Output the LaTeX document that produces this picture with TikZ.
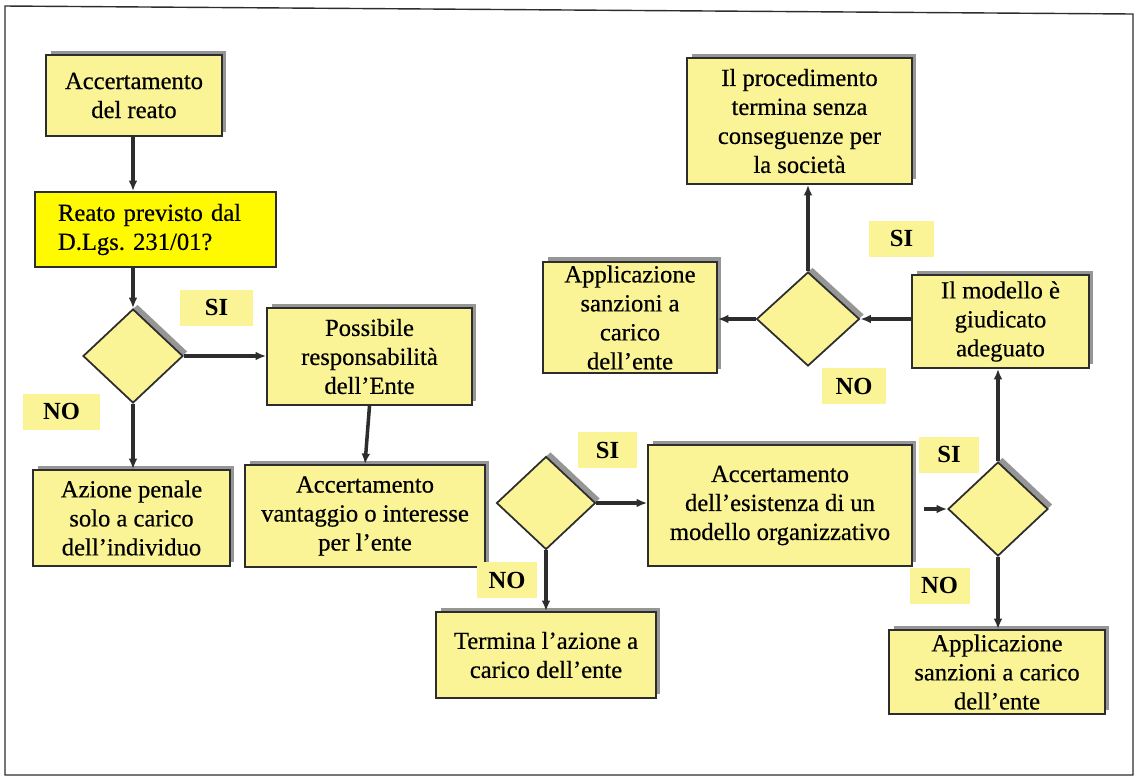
\documentclass[tikz,border=0pt]{standalone}
\usepackage{fontspec}
\setmainfont{Liberation Serif}
\newfontfamily\boxfont{Liberation Serif}[FakeBold=0.5]
\usepackage{tikz}
\usetikzlibrary{shapes, arrows.meta, positioning, shadows}

\definecolor{paleyel}{RGB}{250,244,150}
\definecolor{fullyel}{RGB}{255,250,0}
\definecolor{shadowgray}{RGB}{150,150,150}
\definecolor{linegray}{RGB}{45,45,45}

\tikzset{
  box/.style={draw=linegray, line width=1pt, fill=paleyel, align=center, inner sep=2pt,
    font=\boxfont\fontsize{14}{16.5}\selectfont,
    drop shadow={shadow xshift=0.09cm, shadow yshift=0.09cm, fill=shadowgray, opacity=1}},
  quest/.style={draw=linegray, line width=1pt, fill=fullyel, align=left,
    font=\boxfont\fontsize{14}{16.5}\selectfont},
  choice/.style={diamond, draw=linegray, line width=1pt, fill=paleyel, inner sep=0pt,
    drop shadow={shadow xshift=0.09cm, shadow yshift=0.09cm, fill=shadowgray, opacity=1}},
  answer/.style={fill=paleyel, font=\fontsize{14}{16}\selectfont\bfseries,
    minimum width=1.2cm, minimum height=0.72cm},
  arr/.style={-{Latex[length=6pt,width=5pt]}, draw=linegray, line width=2pt}
}

\begin{document}
\frenchspacing
\begin{tikzpicture}[x=0.02cm, y=-0.02cm]
\useasboundingbox (0,0) rectangle (1137,779);
\draw [linegray, line width=0.8pt] (5,775) -- (5,6) -- (1133,14) -- (1133,775) -- cycle;

% left column
\node[box, minimum width=3.52cm, minimum height=1.62cm] (reato) at (134,95.5) {Accertamento\\del reato};
\node[quest, minimum width=4.82cm, minimum height=1.5cm, text width=3.9cm] (previsto) at (155.5,229.5) {Reato previsto dal\\D.Lgs. 231/01?};
\node[choice, minimum width=2cm, minimum height=1.88cm] (d1) at (133,356) {};
\node[box, minimum width=4.1cm, minimum height=1.94cm] (possibile) at (369.5,356.5) {Possibile\\responsabilità\\dell’Ente};
\node[box, minimum width=3.94cm, minimum height=1.92cm] (azione) at (131.5,518) {Azione penale\\solo a carico\\dell’individuo};
\node[box, minimum width=4.8cm, minimum height=2.04cm] (vantaggio) at (365,516) {Accertamento\\vantaggio o interesse\\per l’ente};
\node[answer, minimum width=1.46cm] (si1) at (216.5,307.5) {SI};
\node[answer, minimum width=1.54cm] (no1) at (61.5,411.5) {NO};

% middle
\node[choice, minimum width=1.98cm, minimum height=1.86cm] (d2) at (546,503) {};
\node[box, minimum width=4.4cm, minimum height=1.72cm] (termina) at (546,655) {Termina l’azione a\\carico dell’ente};
\node[box, minimum width=5.28cm, minimum height=2.42cm] (esistenza) at (780,505.5) {Accertamento\\dell’esistenza di un\\modello organizzativo};
\node[answer] (si2) at (607.5,450) {SI};
\node[answer] (no2) at (507,580) {NO};

% right column
\node[choice, minimum width=2cm, minimum height=1.88cm] (d3) at (998,509) {};
\node[box, minimum width=4.32cm, minimum height=1.68cm] (sanzioniB) at (997,672) {Applicazione\\sanzioni a carico\\dell’ente};
\node[box, minimum width=3.54cm, minimum height=1.86cm] (modello) at (1000.5,321.5) {Il modello è\\giudicato\\adeguato};
\node[choice, minimum width=2.06cm, minimum height=1.88cm] (d4) at (808,319) {};
\node[box, minimum width=3.48cm, minimum height=2.22cm] (sanzioniA) at (630,317.5) {Applicazione\\sanzioni a\\carico\\dell’ente};
\node[box, minimum width=4.5cm, minimum height=2.52cm] (termina2) at (799.5,121) {Il procedimento\\termina senza\\conseguenze per\\la società};
\node[answer] (si3) at (949,454.5) {SI};
\node[answer] (no3) at (939.5,585.5) {NO};
\node[answer, minimum width=1.3cm] (si4) at (901.5,238.5) {SI};
\node[answer, minimum width=1.28cm] (no4) at (854,386) {NO};

\draw[arr] (d1.north |- reato.south) -- (d1.north |- previsto.north);
\draw[arr] (d1.north |- previsto.south) -- (d1.north);
\draw[arr] (d1.east) -- (d1.east -| possibile.west);
\draw[arr] (d1.south) -- (d1.south |- azione.north);
\draw[arr] (possibile.south) -- (vantaggio.north);
\draw[arr] (d2.east) -- (d2.east -| esistenza.west);
\draw[arr] (d2.south) -- (d2.south |- termina.north);
\draw[arr] ([xshift=-0.46cm]d3.west) -- (d3.west);
\draw[arr] (d3.south) -- (d3.south |- sanzioniB.north);
\draw[arr] (d3.north) -- (d3.north |- modello.south);
\draw[arr] (d4.east -| modello.west) -- (d4.east);
\draw[arr] (d4.west) -- (d4.west -| sanzioniA.east);
\draw[arr] (d4.north) -- (d4.north |- termina2.south);
%\draw[arr] (vantaggio.east) -- (d2.west);
\end{tikzpicture}
\end{document}
